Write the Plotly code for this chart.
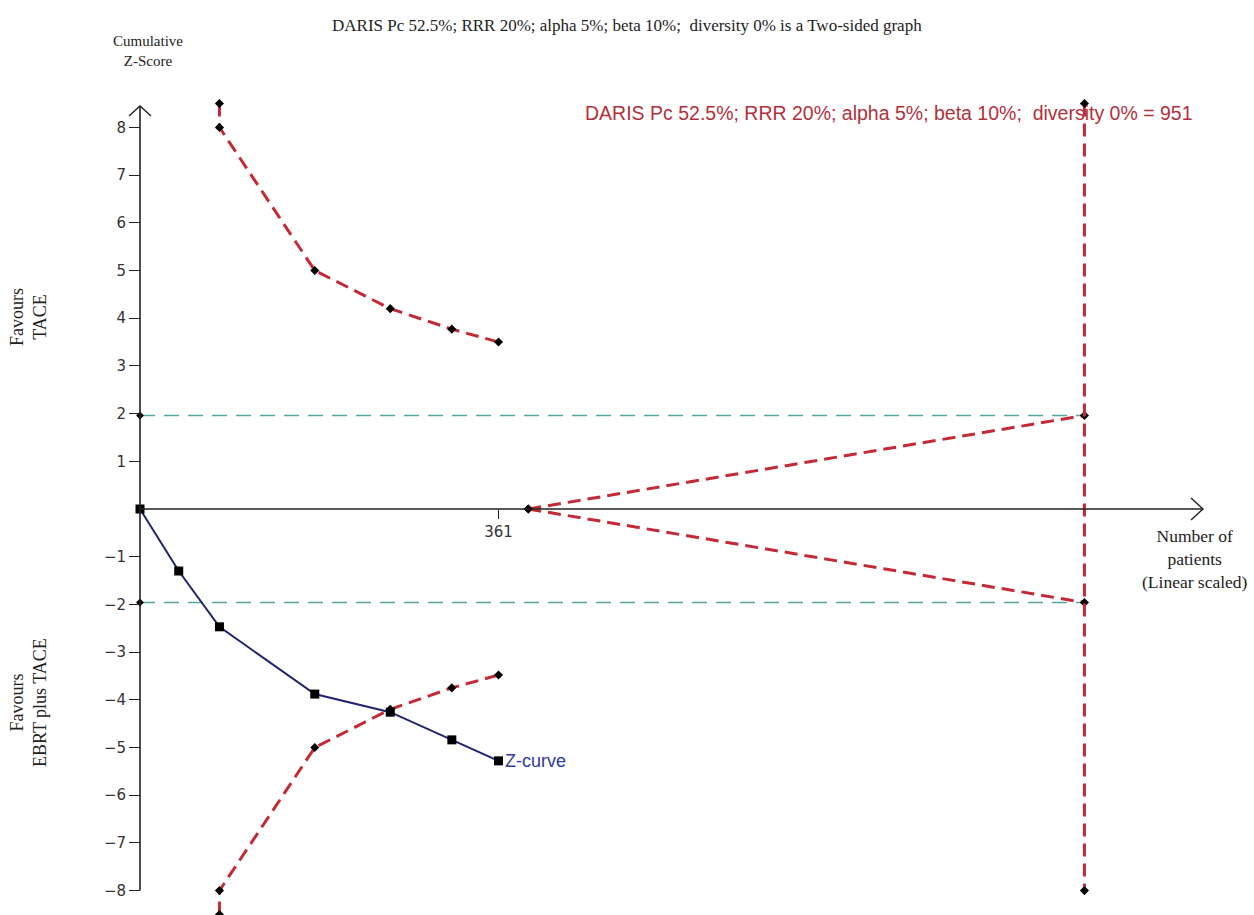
import plotly.graph_objects as go

# --- data -----------------------------------------------------------------
# cumulative Z-curve (patients, z)
z_patients = [0, 39, 80, 176, 252, 314, 361]
z_values = [0, -1.30, -2.47, -3.88, -4.26, -4.84, -5.28]

# O'Brien-Fleming type monitoring boundaries
bound_patients = [80, 80, 176, 252, 314, 361]
upper_bound = [8.5, 8.0, 5.0, 4.2, 3.77, 3.5]
lower_bound = [-8.5, -8.0, -5.0, -4.2, -3.75, -3.48]

# required information size and conventional significance
ris = 951
wedge_start = 391
z_conv = 1.96
ris_top, ris_bottom = 8.5, -8.0

y_ticks = [-8, -7, -6, -5, -4, -3, -2, -1, 1, 2, 3, 4, 5, 6, 7, 8]
x_ticks = [361]

# --- geometry -------------------------------------------------------------
W, H = 1254, 915
ORIGIN_PX = (140, 509)          # pixel location of (0, 0)
KX, KY = 0.99309, 47.7          # pixels per patient / per z unit

x_range = [-ORIGIN_PX[0] / KX, (W - ORIGIN_PX[0]) / KX]
y_range = [(ORIGIN_PX[1] - H) / KY, ORIGIN_PX[1] / KY]

RED = "#c42a35"
TEAL = "#52a8a0"
NAVY = "#1f2370"

def px(x, y):
    """pixel -> paper coordinates"""
    return x / W, 1 - y / H

fig = go.Figure()

# conventional boundaries +/-1.96
for zc in (z_conv, -z_conv):
    fig.add_trace(go.Scatter(
        x=[0, ris], y=[zc, zc], mode="lines",
        line=dict(color=TEAL, width=1.6, dash="15px,9px"),
        hoverinfo="skip", showlegend=False))
    fig.add_trace(go.Scatter(
        x=[0], y=[zc], mode="markers",
        marker=dict(symbol="diamond", size=6, color="black"),
        cliponaxis=False, showlegend=False))

# monitoring boundaries
for yb in (upper_bound, lower_bound):
    fig.add_trace(go.Scatter(
        x=bound_patients, y=yb, mode="lines+markers",
        line=dict(color=RED, width=3, dash="13px,7px"),
        marker=dict(symbol="diamond", size=7, color="black"),
        cliponaxis=False, showlegend=False))

# futility wedge towards the RIS
for zc in (z_conv, -z_conv):
    fig.add_trace(go.Scatter(
        x=[wedge_start, ris], y=[0, zc], mode="lines+markers",
        line=dict(color=RED, width=3, dash="13px,7px"),
        marker=dict(symbol="diamond", size=7, color="black"),
        cliponaxis=False, showlegend=False))

# RIS vertical line
fig.add_trace(go.Scatter(
    x=[ris, ris], y=[ris_top, ris_bottom], mode="lines+markers",
    line=dict(color=RED, width=3, dash="13px,7px"),
    marker=dict(symbol="diamond", size=7, color="black"),
    cliponaxis=False, showlegend=False))

# Z-curve
fig.add_trace(go.Scatter(
    x=z_patients, y=z_values, mode="lines+markers",
    line=dict(color=NAVY, width=2),
    marker=dict(symbol="square", size=9, color="black"),
    cliponaxis=False, showlegend=False))

# axis lines with open arrow heads
y_top = (ORIGIN_PX[1] - 106) / KY
x_end = (1203 - ORIGIN_PX[0]) / KX
shapes = [
    dict(type="line", xref="x", yref="y", x0=0, x1=0, y0=-8, y1=y_top,
         line=dict(color="#222", width=1.6)),
    dict(type="line", xref="x", yref="y", x0=0, x1=x_end, y0=0, y1=0,
         line=dict(color="#222", width=1.6)),
    dict(type="path", xref="x", yref="y", xsizemode="pixel", ysizemode="pixel",
         xanchor=0, yanchor=y_top, path="M -11,-10 L 0,0 L 11,-10",
         line=dict(color="#222", width=1.4)),
    dict(type="path", xref="x", yref="y", xsizemode="pixel", ysizemode="pixel",
         xanchor=x_end, yanchor=0, path="M -12,11 L 0,0 L -12,-11",
         line=dict(color="#222", width=1.4)),
]

serif = "Liberation Serif"
sans = "DejaVu Sans"
annotations = []

def text(x, y, s, size=13, family=serif, color="#222", xanchor="center",
         yanchor="middle", angle=0, align="center"):
    ax, ay = px(x, y)
    annotations.append(dict(
        x=ax, y=ay, xref="paper", yref="paper", text=s, showarrow=False,
        xanchor=xanchor, yanchor=yanchor, textangle=angle, align=align,
        font=dict(family=family, size=size, color=color)))

text(627, 25, "DARIS Pc 52.5%; RRR 20%; alpha 5%; beta 10%;  diversity 0% is a Two-sided graph", size=17)
text(148, 51, "Cumulative<br>Z-Score", size=15)
text(28, 317, "Favours<br>TACE", size=18, angle=-90)
text(28, 703, "Favours<br>EBRT plus TACE", size=18, angle=-90)
text(1195, 559, "Number of<br>patients<br>(Linear scaled)", size=17.5)
text(583, 113, "DARIS Pc 52.5%; RRR 20%; alpha 5%; beta 10%;  diversity 0% = 951",
     size=19.5, family="Liberation Sans", color="#b3303a", xanchor="left")
text(503, 761, "Z-curve", size=18, family="Liberation Sans", color="#2d3a9a",
     xanchor="left")

fig.update_layout(
    width=W, height=H, autosize=False,
    margin=dict(l=0, r=0, t=0, b=0),
    paper_bgcolor="white", plot_bgcolor="white",
    showlegend=False,
    shapes=shapes, annotations=annotations,
    xaxis=dict(range=x_range, domain=[0, 1], anchor="free",
               position=(H - ORIGIN_PX[1]) / H,
               tickvals=x_ticks, ticks="outside", ticklen=9, tickwidth=1.3,
               tickcolor="#222", showline=False, showgrid=False,
               zeroline=False, tickfont=dict(family=sans, size=15, color="#333")),
    yaxis=dict(range=y_range, domain=[0, 1], anchor="free",
               position=ORIGIN_PX[0] / W,
               tickvals=y_ticks, ticks="outside", ticklen=11, tickwidth=1.3,
               tickcolor="#222", showline=False, showgrid=False,
               zeroline=False, tickfont=dict(family=sans, size=15, color="#333")),
)

fig.write_html("out.html")
